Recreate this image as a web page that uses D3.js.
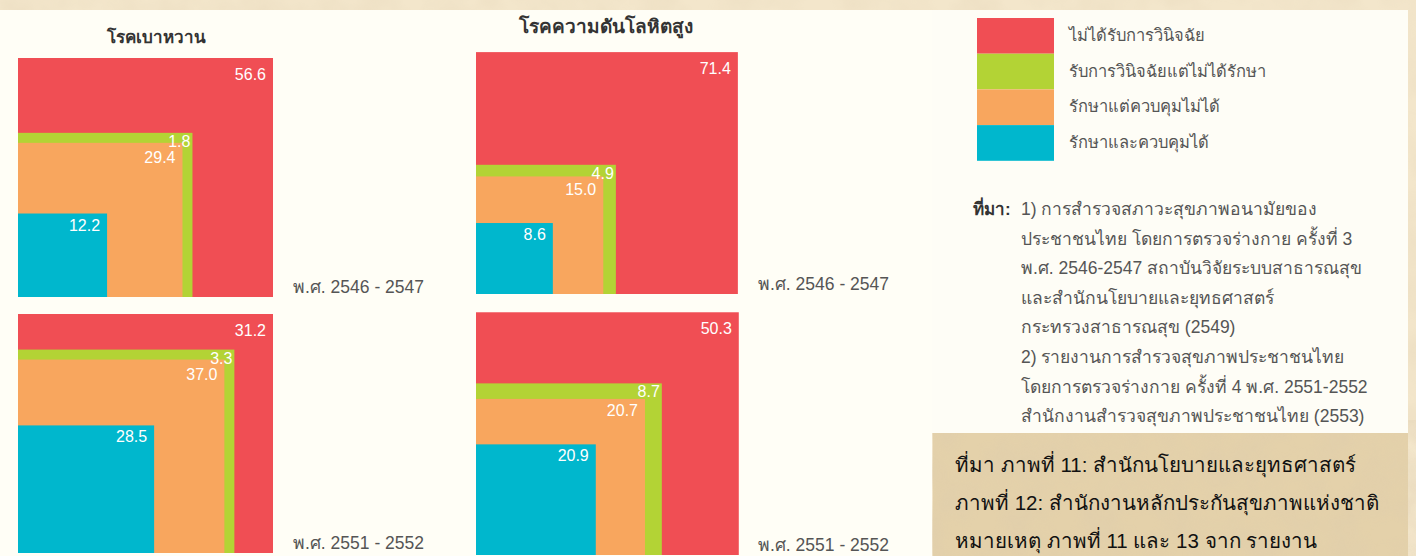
<!DOCTYPE html>
<html>
<head>
<meta charset="utf-8">
<script src="https://cdnjs.cloudflare.com/ajax/libs/d3/7.8.5/d3.min.js"></script>
<style>
body{margin:0;background:#f3e6cb;}
svg{display:block;}
</style>
</head>
<body>
<script>
var categories=["ไม่ได้รับการวินิจฉัย","รับการวินิจฉัยแต่ไม่ได้รักษา","รักษาแต่ควบคุมไม่ได้","รักษาและควบคุมได้"]
var diseases=["โรคเบาหวาน","โรคความดันโลหิตสูง"]
var periods=["พ.ศ. 2546 - 2547","พ.ศ. 2551 - 2552"]
var diabetes2546=[56.6,1.8,29.4,12.2]
var diabetes2551=[31.2,3.3,37.0,28.5]
var hyper2546=[71.4,4.9,15.0,8.6]
var hyper2551=[50.3,8.7,20.7,20.9]
var sourceLines=["1) การสำรวจสภาวะสุขภาพอนามัยของ","ประชาชนไทย โดยการตรวจร่างกาย ครั้งที่ 3","พ.ศ. 2546-2547 สถาบันวิจัยระบบสาธารณสุข","และสำนักนโยบายและยุทธศาสตร์","กระทรวงสาธารณสุข (2549)","2) รายงานการสำรวจสุขภาพประชาชนไทย","โดยการตรวจร่างกาย ครั้งที่ 4 พ.ศ. 2551-2552","สำนักงานสำรวจสุขภาพประชาชนไทย (2553)"]
var noteLines=["ที่มา ภาพที่ 11: สำนักนโยบายและยุทธศาสตร์","ภาพที่ 12: สำนักงานหลักประกันสุขภาพแห่งชาติ","หมายเหตุ ภาพที่ 11 และ 13 จาก รายงาน"]

var colors=["#f04e54","#b3d335","#f8a65e","#00b7cd"]
var screen={width:1416,height:556}
var minBand=10

var svg=d3.select("body").append("svg")
  .attr("width",screen.width)
  .attr("height",screen.height)

// parchment background
var defs=svg.append("defs")
var f=defs.append("filter").attr("id","paper")
f.append("feTurbulence").attr("type","fractalNoise").attr("baseFrequency",0.025).attr("numOctaves",3).attr("seed",4)
f.append("feColorMatrix").attr("type","matrix")
  .attr("values","0 0 0 0 0.72  0 0 0 0 0.60  0 0 0 0 0.42  0 0 0 -1.2 0.8")
svg.append("rect").attr("width",screen.width).attr("height",screen.height).attr("fill","#f3e6cb")
svg.append("rect").attr("width",screen.width).attr("height",screen.height).attr("filter","url(#paper)").attr("opacity",0.35)
svg.append("rect").attr("x",933).attr("y",433).attr("width",475).attr("height",123).attr("fill","#e4d1aa")
svg.append("rect").attr("x",933).attr("y",433).attr("width",475).attr("height",123).attr("filter","url(#paper)").attr("opacity",0.6)
svg.append("rect").attr("x",0).attr("y",10).attr("width",932).attr("height",546).attr("fill","#fffef6")
svg.append("rect").attr("x",932).attr("y",10).attr("width",476).attr("height",423).attr("fill","#fefdf6")

var panels=[
  {data:diabetes2546,x:18,y:58,w:255,h:239,period:0},
  {data:diabetes2551,x:18,y:314,w:255,h:239,period:1},
  {data:hyper2546,x:476,y:52,w:262,h:242,period:0},
  {data:hyper2551,x:476,y:313,w:262,h:242,period:1}
]

panels.forEach(function(p){
  var xs=d3.scaleSqrt().domain([0,100]).range([0,p.w])
  var ys=d3.scaleSqrt().domain([0,100]).range([0,p.h])
  // cumulative share, inner square = controlled, outer = everyone
  var segs=p.data.map(function(v,i){
    return {value:v,cum:d3.sum(p.data.slice(i)),i:i}
  })
  // keep thin bands visible
  for(var k=segs.length-1;k>=0;k--){
    var s=segs[k]
    s.w=xs(s.cum); s.h=ys(s.cum)
    if(k<segs.length-1 && s.cum<100){
      s.w=Math.max(s.w,segs[k+1].w+minBand)
      s.h=Math.max(s.h,segs[k+1].h+minBand)
    }
  }
  // label baselines, pushed down if they collide with the one above
  var last=-100
  segs.forEach(function(s){
    var off=s.i==0?22:(s.i==1?14:17)
    s.ly=Math.max(p.h-s.h+off,last+16)
    last=s.ly
  })
  var g=svg.append("g").attr("transform","translate("+p.x+","+p.y+")")
  g.selectAll("rect").data(segs).enter().append("rect")
    .attr("x",0)
    .attr("y",function(d){return p.h-d.h})
    .attr("width",function(d){return d.w})
    .attr("height",function(d){return d.h})
    .attr("fill",function(d){return colors[d.i]})
  g.selectAll("text.val").data(segs).enter().append("text")
    .attr("class","val")
    .attr("x",function(d){return d.w-(d.i==1?2:7)})
    .attr("y",function(d){return d.ly})
    .attr("text-anchor","end")
    .attr("fill","#fff")
    .style("font-family","'Liberation Sans',Arial,sans-serif")
    .style("font-size","16px")
    .text(function(d){return d.value.toFixed(1)})
  svg.append("text")
    .attr("x",p.x+p.w+20)
    .attr("y",p.y+p.h-4)
    .attr("fill","#555")
    .style("font-family","'Liberation Sans',Arial,sans-serif")
    .style("font-size","17.5px")
    .text(periods[p.period])
})

svg.append("text").attr("x",156).attr("y",43).attr("text-anchor","middle")
  .attr("fill","#333").style("font-family","'Liberation Sans',sans-serif").style("font-size","17px").style("font-weight","bold")
  .text(diseases[0])
svg.append("text").attr("x",606).attr("y",33).attr("text-anchor","middle")
  .attr("fill","#333").style("font-family","'Liberation Sans',sans-serif").style("font-size","19px").style("font-weight","bold")
  .text(diseases[1])

// legend
var leg=svg.append("g").attr("transform","translate(977,18)")
leg.selectAll("rect").data(categories).enter().append("rect")
  .attr("x",0).attr("y",function(d,i){return i*35.7})
  .attr("width",77).attr("height",35.7)
  .attr("fill",function(d,i){return colors[i]})
leg.selectAll("text").data(categories).enter().append("text")
  .attr("x",92).attr("y",function(d,i){return i*35.7+23})
  .attr("fill","#555")
  .style("font-family","'Liberation Sans',sans-serif").style("font-size","16.5px")
  .text(function(d){return d})

// source
svg.append("text").attr("x",973).attr("y",215)
  .attr("fill","#333").style("font-family","'Liberation Sans',sans-serif").style("font-size","17px").style("font-weight","bold")
  .text("ที่มา:")
svg.selectAll("text.src").data(sourceLines).enter().append("text")
  .attr("class","src")
  .attr("x",1021).attr("y",function(d,i){return 215+i*29.6})
  .attr("fill","#555")
  .style("font-family","'Liberation Sans',sans-serif").style("font-size","17.5px")
  .text(function(d){return d})

svg.selectAll("text.note").data(noteLines).enter().append("text")
  .attr("class","note")
  .attr("x",955).attr("y",function(d,i){return 472+i*38})
  .attr("fill","#111")
  .style("font-family","'Liberation Sans',sans-serif").style("font-size","20.5px")
  .text(function(d){return d})
</script>
</body>
</html>
